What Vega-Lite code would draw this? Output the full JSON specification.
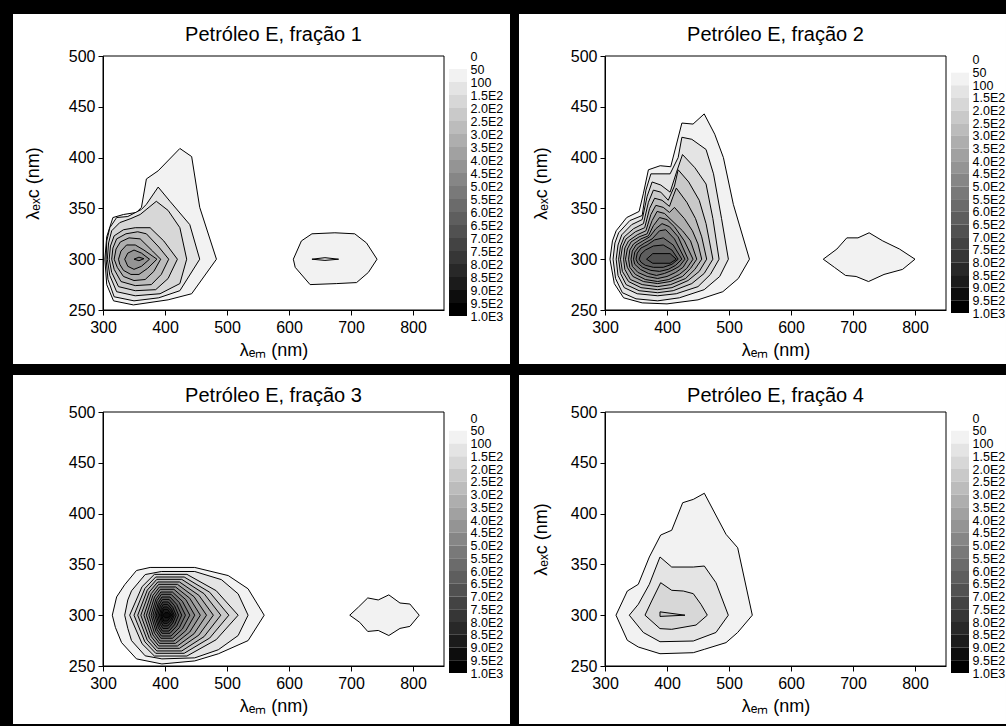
{
"$schema": "https://vega.github.io/schema/vega-lite/v6.json",
"background": "black",
"padding": {"left": 13, "top": 13, "right": 0, "bottom": 3},
"bounds": "flush",
"columns": 5,
"spacing": {"row": 96, "column": 5},
"datasets": {
"leg": [{"lo":0,"hi":50},{"lo":50,"hi":100},{"lo":100,"hi":150},{"lo":150,"hi":200},{"lo":200,"hi":250},{"lo":250,"hi":300},{"lo":300,"hi":350},{"lo":350,"hi":400},{"lo":400,"hi":450},{"lo":450,"hi":500},{"lo":500,"hi":550},{"lo":550,"hi":600},{"lo":600,"hi":650},{"lo":650,"hi":700},{"lo":700,"hi":750},{"lo":750,"hi":800},{"lo":800,"hi":850},{"lo":850,"hi":900},{"lo":900,"hi":950},{"lo":950,"hi":1000}],
"p1": [
{"g":"a01","v":50,"i":0,"x":303,"y":300},{"g":"a01","v":50,"i":1,"x":306,"y":322},{"g":"a01","v":50,"i":2,"x":316,"y":341},{"g":"a01","v":50,"i":3,"x":333,"y":344},{"g":"a01","v":50,"i":4,"x":354,"y":346},{"g":"a01","v":50,"i":5,"x":362,"y":351},{"g":"a01","v":50,"i":6,"x":370,"y":379},{"g":"a01","v":50,"i":7,"x":389,"y":387},{"g":"a01","v":50,"i":8,"x":424,"y":409},{"g":"a01","v":50,"i":9,"x":443,"y":401},{"g":"a01","v":50,"i":10,"x":456,"y":351},{"g":"a01","v":50,"i":11,"x":483,"y":300},{"g":"a01","v":50,"i":12,"x":443,"y":266},{"g":"a01","v":50,"i":13,"x":405,"y":260},{"g":"a01","v":50,"i":14,"x":349,"y":255},{"g":"a01","v":50,"i":15,"x":317,"y":259},{"g":"a01","v":50,"i":16,"x":306,"y":275},{"g":"a01","v":50,"i":17,"x":303,"y":300},
{"g":"a02","v":50,"i":0,"x":607,"y":300},{"g":"a02","v":50,"i":1,"x":620,"y":318},{"g":"a02","v":50,"i":2,"x":637,"y":325},{"g":"a02","v":50,"i":3,"x":674,"y":326},{"g":"a02","v":50,"i":4,"x":706,"y":325},{"g":"a02","v":50,"i":5,"x":725,"y":316},{"g":"a02","v":50,"i":6,"x":742,"y":300},{"g":"a02","v":50,"i":7,"x":728,"y":287},{"g":"a02","v":50,"i":8,"x":709,"y":277},{"g":"a02","v":50,"i":9,"x":677,"y":276},{"g":"a02","v":50,"i":10,"x":634,"y":275},{"g":"a02","v":50,"i":11,"x":610,"y":292},{"g":"a02","v":50,"i":12,"x":607,"y":300},
{"g":"a03","v":100,"i":0,"x":305,"y":300},{"g":"a03","v":100,"i":1,"x":306,"y":318},{"g":"a03","v":100,"i":2,"x":311,"y":331},{"g":"a03","v":100,"i":3,"x":322,"y":341},{"g":"a03","v":100,"i":4,"x":340,"y":342},{"g":"a03","v":100,"i":5,"x":362,"y":349},{"g":"a03","v":100,"i":6,"x":370,"y":354},{"g":"a03","v":100,"i":7,"x":389,"y":371},{"g":"a03","v":100,"i":8,"x":408,"y":357},{"g":"a03","v":100,"i":9,"x":440,"y":334},{"g":"a03","v":100,"i":10,"x":456,"y":300},{"g":"a03","v":100,"i":11,"x":424,"y":269},{"g":"a03","v":100,"i":12,"x":390,"y":262},{"g":"a03","v":100,"i":13,"x":350,"y":259},{"g":"a03","v":100,"i":14,"x":318,"y":263},{"g":"a03","v":100,"i":15,"x":308,"y":280},{"g":"a03","v":100,"i":16,"x":305,"y":300},
{"g":"a04","v":100,"i":0,"x":637,"y":300},{"g":"a04","v":100,"i":1,"x":658,"y":301.5},{"g":"a04","v":100,"i":2,"x":680,"y":300},{"g":"a04","v":100,"i":3,"x":658,"y":298.8},{"g":"a04","v":100,"i":4,"x":637,"y":300},
{"g":"a05","v":150,"i":0,"x":307,"y":300},{"g":"a05","v":150,"i":1,"x":309,"y":316},{"g":"a05","v":150,"i":2,"x":314,"y":328},{"g":"a05","v":150,"i":3,"x":327,"y":336},{"g":"a05","v":150,"i":4,"x":345,"y":340},{"g":"a05","v":150,"i":5,"x":360,"y":344},{"g":"a05","v":150,"i":6,"x":386,"y":357},{"g":"a05","v":150,"i":7,"x":405,"y":348},{"g":"a05","v":150,"i":8,"x":424,"y":331},{"g":"a05","v":150,"i":9,"x":435,"y":300},{"g":"a05","v":150,"i":10,"x":424,"y":276},{"g":"a05","v":150,"i":11,"x":392,"y":266},{"g":"a05","v":150,"i":12,"x":352,"y":264},{"g":"a05","v":150,"i":13,"x":322,"y":268},{"g":"a05","v":150,"i":14,"x":311,"y":284},{"g":"a05","v":150,"i":15,"x":307,"y":300},
{"g":"a06","v":200,"i":0,"x":310,"y":300},{"g":"a06","v":200,"i":1,"x":312,"y":313},{"g":"a06","v":200,"i":2,"x":318,"y":323},{"g":"a06","v":200,"i":3,"x":333,"y":329},{"g":"a06","v":200,"i":4,"x":352,"y":331},{"g":"a06","v":200,"i":5,"x":376,"y":331},{"g":"a06","v":200,"i":6,"x":398,"y":318},{"g":"a06","v":200,"i":7,"x":420,"y":300},{"g":"a06","v":200,"i":8,"x":405,"y":281},{"g":"a06","v":200,"i":9,"x":385,"y":270},{"g":"a06","v":200,"i":10,"x":352,"y":269},{"g":"a06","v":200,"i":11,"x":325,"y":273},{"g":"a06","v":200,"i":12,"x":314,"y":287},{"g":"a06","v":200,"i":13,"x":310,"y":300},
{"g":"a07","v":250,"i":0,"x":314,"y":300},{"g":"a07","v":250,"i":1,"x":316,"y":311},{"g":"a07","v":250,"i":2,"x":322,"y":320},{"g":"a07","v":250,"i":3,"x":337,"y":325},{"g":"a07","v":250,"i":4,"x":356,"y":327},{"g":"a07","v":250,"i":5,"x":370,"y":325},{"g":"a07","v":250,"i":6,"x":390,"y":312},{"g":"a07","v":250,"i":7,"x":406,"y":300},{"g":"a07","v":250,"i":8,"x":394,"y":285},{"g":"a07","v":250,"i":9,"x":378,"y":275},{"g":"a07","v":250,"i":10,"x":352,"y":274},{"g":"a07","v":250,"i":11,"x":329,"y":278},{"g":"a07","v":250,"i":12,"x":318,"y":290},{"g":"a07","v":250,"i":13,"x":314,"y":300},
{"g":"a08","v":300,"i":0,"x":318,"y":300},{"g":"a08","v":300,"i":1,"x":321,"y":310},{"g":"a08","v":300,"i":2,"x":328,"y":317},{"g":"a08","v":300,"i":3,"x":342,"y":321},{"g":"a08","v":300,"i":4,"x":360,"y":320},{"g":"a08","v":300,"i":5,"x":380,"y":308},{"g":"a08","v":300,"i":6,"x":393,"y":300},{"g":"a08","v":300,"i":7,"x":382,"y":288},{"g":"a08","v":300,"i":8,"x":368,"y":280},{"g":"a08","v":300,"i":9,"x":350,"y":279},{"g":"a08","v":300,"i":10,"x":333,"y":283},{"g":"a08","v":300,"i":11,"x":323,"y":292},{"g":"a08","v":300,"i":12,"x":318,"y":300},
{"g":"a09","v":350,"i":0,"x":325,"y":300},{"g":"a09","v":350,"i":1,"x":329,"y":308},{"g":"a09","v":350,"i":2,"x":338,"y":314},{"g":"a09","v":350,"i":3,"x":352,"y":314},{"g":"a09","v":350,"i":4,"x":366,"y":309},{"g":"a09","v":350,"i":5,"x":387,"y":300},{"g":"a09","v":350,"i":6,"x":372,"y":291},{"g":"a09","v":350,"i":7,"x":358,"y":285},{"g":"a09","v":350,"i":8,"x":345,"y":285},{"g":"a09","v":350,"i":9,"x":333,"y":289},{"g":"a09","v":350,"i":10,"x":327,"y":295},{"g":"a09","v":350,"i":11,"x":325,"y":300},
{"g":"a10","v":400,"i":0,"x":335,"y":300},{"g":"a10","v":400,"i":1,"x":340,"y":306},{"g":"a10","v":400,"i":2,"x":350,"y":309},{"g":"a10","v":400,"i":3,"x":362,"y":306},{"g":"a10","v":400,"i":4,"x":375,"y":300},{"g":"a10","v":400,"i":5,"x":362,"y":293},{"g":"a10","v":400,"i":6,"x":350,"y":290},{"g":"a10","v":400,"i":7,"x":340,"y":293},{"g":"a10","v":400,"i":8,"x":335,"y":300},
{"g":"a11","v":450,"i":0,"x":350,"y":300},{"g":"a11","v":450,"i":1,"x":358,"y":302},{"g":"a11","v":450,"i":2,"x":366,"y":300.5},{"g":"a11","v":450,"i":3,"x":358,"y":298.5},{"g":"a11","v":450,"i":4,"x":350,"y":300}
],
"p2": [
{"g":"b01","v":50,"i":0,"x":308,"y":300},{"g":"b01","v":50,"i":1,"x":312,"y":318},{"g":"b01","v":50,"i":2,"x":318,"y":328},{"g":"b01","v":50,"i":3,"x":335,"y":341},{"g":"b01","v":50,"i":4,"x":355,"y":347},{"g":"b01","v":50,"i":5,"x":362,"y":365},{"g":"b01","v":50,"i":6,"x":370,"y":388},{"g":"b01","v":50,"i":7,"x":389,"y":392},{"g":"b01","v":50,"i":8,"x":406,"y":391},{"g":"b01","v":50,"i":9,"x":424,"y":434},{"g":"b01","v":50,"i":10,"x":442,"y":433},{"g":"b01","v":50,"i":11,"x":460,"y":443},{"g":"b01","v":50,"i":12,"x":477,"y":423},{"g":"b01","v":50,"i":13,"x":491,"y":400},{"g":"b01","v":50,"i":14,"x":507,"y":354},{"g":"b01","v":50,"i":15,"x":533,"y":300},{"g":"b01","v":50,"i":16,"x":515,"y":281},{"g":"b01","v":50,"i":17,"x":490,"y":268},{"g":"b01","v":50,"i":18,"x":450,"y":260},{"g":"b01","v":50,"i":19,"x":400,"y":256},{"g":"b01","v":50,"i":20,"x":360,"y":257},{"g":"b01","v":50,"i":21,"x":330,"y":262},{"g":"b01","v":50,"i":22,"x":315,"y":276},{"g":"b01","v":50,"i":23,"x":308,"y":300},
{"g":"b02","v":50,"i":0,"x":652,"y":300},{"g":"b02","v":50,"i":1,"x":674,"y":310},{"g":"b02","v":50,"i":2,"x":690,"y":321},{"g":"b02","v":50,"i":3,"x":708,"y":321},{"g":"b02","v":50,"i":4,"x":726,"y":326},{"g":"b02","v":50,"i":5,"x":748,"y":318},{"g":"b02","v":50,"i":6,"x":775,"y":310},{"g":"b02","v":50,"i":7,"x":800,"y":300},{"g":"b02","v":50,"i":8,"x":780,"y":290},{"g":"b02","v":50,"i":9,"x":750,"y":285},{"g":"b02","v":50,"i":10,"x":725,"y":278},{"g":"b02","v":50,"i":11,"x":705,"y":283},{"g":"b02","v":50,"i":12,"x":688,"y":284},{"g":"b02","v":50,"i":13,"x":670,"y":292},{"g":"b02","v":50,"i":14,"x":652,"y":300},
{"g":"b03","v":100,"i":0,"x":313,"y":300},{"g":"b03","v":100,"i":1,"x":316,"y":316},{"g":"b03","v":100,"i":2,"x":322,"y":326},{"g":"b03","v":100,"i":3,"x":340,"y":338},{"g":"b03","v":100,"i":4,"x":360,"y":343},{"g":"b03","v":100,"i":5,"x":366,"y":368},{"g":"b03","v":100,"i":6,"x":374,"y":384},{"g":"b03","v":100,"i":7,"x":405,"y":384},{"g":"b03","v":100,"i":8,"x":418,"y":400},{"g":"b03","v":100,"i":9,"x":424,"y":420},{"g":"b03","v":100,"i":10,"x":440,"y":418},{"g":"b03","v":100,"i":11,"x":463,"y":408},{"g":"b03","v":100,"i":12,"x":475,"y":384},{"g":"b03","v":100,"i":13,"x":488,"y":340},{"g":"b03","v":100,"i":14,"x":499,"y":300},{"g":"b03","v":100,"i":15,"x":485,"y":283},{"g":"b03","v":100,"i":16,"x":460,"y":270},{"g":"b03","v":100,"i":17,"x":420,"y":262},{"g":"b03","v":100,"i":18,"x":385,"y":259},{"g":"b03","v":100,"i":19,"x":350,"y":261},{"g":"b03","v":100,"i":20,"x":328,"y":267},{"g":"b03","v":100,"i":21,"x":317,"y":281},{"g":"b03","v":100,"i":22,"x":313,"y":300},
{"g":"b04","v":150,"i":0,"x":318,"y":300},{"g":"b04","v":150,"i":1,"x":321,"y":314},{"g":"b04","v":150,"i":2,"x":327,"y":324},{"g":"b04","v":150,"i":3,"x":343,"y":334},{"g":"b04","v":150,"i":4,"x":360,"y":339},{"g":"b04","v":150,"i":5,"x":368,"y":362},{"g":"b04","v":150,"i":6,"x":376,"y":376},{"g":"b04","v":150,"i":7,"x":390,"y":373},{"g":"b04","v":150,"i":8,"x":405,"y":366},{"g":"b04","v":150,"i":9,"x":415,"y":385},{"g":"b04","v":150,"i":10,"x":425,"y":403},{"g":"b04","v":150,"i":11,"x":445,"y":390},{"g":"b04","v":150,"i":12,"x":463,"y":374},{"g":"b04","v":150,"i":13,"x":474,"y":340},{"g":"b04","v":150,"i":14,"x":484,"y":300},{"g":"b04","v":150,"i":15,"x":470,"y":285},{"g":"b04","v":150,"i":16,"x":450,"y":273},{"g":"b04","v":150,"i":17,"x":415,"y":266},{"g":"b04","v":150,"i":18,"x":385,"y":264},{"g":"b04","v":150,"i":19,"x":352,"y":266},{"g":"b04","v":150,"i":20,"x":331,"y":272},{"g":"b04","v":150,"i":21,"x":321,"y":284},{"g":"b04","v":150,"i":22,"x":318,"y":300},
{"g":"b05","v":200,"i":0,"x":322,"y":300},{"g":"b05","v":200,"i":1,"x":325,"y":313},{"g":"b05","v":200,"i":2,"x":331,"y":322},{"g":"b05","v":200,"i":3,"x":346,"y":330},{"g":"b05","v":200,"i":4,"x":362,"y":335},{"g":"b05","v":200,"i":5,"x":370,"y":356},{"g":"b05","v":200,"i":6,"x":378,"y":368},{"g":"b05","v":200,"i":7,"x":390,"y":366},{"g":"b05","v":200,"i":8,"x":402,"y":358},{"g":"b05","v":200,"i":9,"x":412,"y":372},{"g":"b05","v":200,"i":10,"x":418,"y":388},{"g":"b05","v":200,"i":11,"x":435,"y":376},{"g":"b05","v":200,"i":12,"x":452,"y":358},{"g":"b05","v":200,"i":13,"x":463,"y":335},{"g":"b05","v":200,"i":14,"x":474,"y":300},{"g":"b05","v":200,"i":15,"x":460,"y":286},{"g":"b05","v":200,"i":16,"x":440,"y":276},{"g":"b05","v":200,"i":17,"x":410,"y":269},{"g":"b05","v":200,"i":18,"x":385,"y":267},{"g":"b05","v":200,"i":19,"x":355,"y":269},{"g":"b05","v":200,"i":20,"x":334,"y":275},{"g":"b05","v":200,"i":21,"x":325,"y":286},{"g":"b05","v":200,"i":22,"x":322,"y":300},
{"g":"b06","v":250,"i":0,"x":325,"y":300},{"g":"b06","v":250,"i":1,"x":328,"y":312},{"g":"b06","v":250,"i":2,"x":334,"y":320},{"g":"b06","v":250,"i":3,"x":349,"y":327},{"g":"b06","v":250,"i":4,"x":364,"y":331},{"g":"b06","v":250,"i":5,"x":372,"y":350},{"g":"b06","v":250,"i":6,"x":380,"y":360},{"g":"b06","v":250,"i":7,"x":392,"y":358},{"g":"b06","v":250,"i":8,"x":404,"y":352},{"g":"b06","v":250,"i":9,"x":410,"y":362},{"g":"b06","v":250,"i":10,"x":415,"y":370},{"g":"b06","v":250,"i":11,"x":432,"y":356},{"g":"b06","v":250,"i":12,"x":446,"y":340},{"g":"b06","v":250,"i":13,"x":456,"y":322},{"g":"b06","v":250,"i":14,"x":464,"y":300},{"g":"b06","v":250,"i":15,"x":452,"y":288},{"g":"b06","v":250,"i":16,"x":434,"y":279},{"g":"b06","v":250,"i":17,"x":408,"y":272},{"g":"b06","v":250,"i":18,"x":385,"y":270},{"g":"b06","v":250,"i":19,"x":358,"y":272},{"g":"b06","v":250,"i":20,"x":338,"y":278},{"g":"b06","v":250,"i":21,"x":328,"y":288},{"g":"b06","v":250,"i":22,"x":325,"y":300},
{"g":"b07","v":300,"i":0,"x":330,"y":300},{"g":"b07","v":300,"i":1,"x":332,"y":311},{"g":"b07","v":300,"i":2,"x":338,"y":318},{"g":"b07","v":300,"i":3,"x":352,"y":324},{"g":"b07","v":300,"i":4,"x":366,"y":328},{"g":"b07","v":300,"i":5,"x":374,"y":344},{"g":"b07","v":300,"i":6,"x":382,"y":353},{"g":"b07","v":300,"i":7,"x":394,"y":351},{"g":"b07","v":300,"i":8,"x":404,"y":346},{"g":"b07","v":300,"i":9,"x":412,"y":351},{"g":"b07","v":300,"i":10,"x":428,"y":340},{"g":"b07","v":300,"i":11,"x":441,"y":328},{"g":"b07","v":300,"i":12,"x":450,"y":315},{"g":"b07","v":300,"i":13,"x":456,"y":300},{"g":"b07","v":300,"i":14,"x":445,"y":290},{"g":"b07","v":300,"i":15,"x":430,"y":281},{"g":"b07","v":300,"i":16,"x":406,"y":275},{"g":"b07","v":300,"i":17,"x":385,"y":273},{"g":"b07","v":300,"i":18,"x":360,"y":275},{"g":"b07","v":300,"i":19,"x":341,"y":280},{"g":"b07","v":300,"i":20,"x":332,"y":290},{"g":"b07","v":300,"i":21,"x":330,"y":300},
{"g":"b08","v":350,"i":0,"x":333,"y":300},{"g":"b08","v":350,"i":1,"x":336,"y":310},{"g":"b08","v":350,"i":2,"x":342,"y":317},{"g":"b08","v":350,"i":3,"x":355,"y":322},{"g":"b08","v":350,"i":4,"x":368,"y":325},{"g":"b08","v":350,"i":5,"x":376,"y":338},{"g":"b08","v":350,"i":6,"x":384,"y":347},{"g":"b08","v":350,"i":7,"x":396,"y":345},{"g":"b08","v":350,"i":8,"x":408,"y":338},{"g":"b08","v":350,"i":9,"x":425,"y":328},{"g":"b08","v":350,"i":10,"x":438,"y":318},{"g":"b08","v":350,"i":11,"x":448,"y":300},{"g":"b08","v":350,"i":12,"x":438,"y":291},{"g":"b08","v":350,"i":13,"x":425,"y":283},{"g":"b08","v":350,"i":14,"x":405,"y":278},{"g":"b08","v":350,"i":15,"x":385,"y":276},{"g":"b08","v":350,"i":16,"x":362,"y":278},{"g":"b08","v":350,"i":17,"x":345,"y":283},{"g":"b08","v":350,"i":18,"x":336,"y":292},{"g":"b08","v":350,"i":19,"x":333,"y":300},
{"g":"b09","v":400,"i":0,"x":338,"y":300},{"g":"b09","v":400,"i":1,"x":340,"y":309},{"g":"b09","v":400,"i":2,"x":346,"y":315},{"g":"b09","v":400,"i":3,"x":358,"y":320},{"g":"b09","v":400,"i":4,"x":370,"y":323},{"g":"b09","v":400,"i":5,"x":378,"y":333},{"g":"b09","v":400,"i":6,"x":388,"y":341},{"g":"b09","v":400,"i":7,"x":400,"y":339},{"g":"b09","v":400,"i":8,"x":412,"y":332},{"g":"b09","v":400,"i":9,"x":428,"y":318},{"g":"b09","v":400,"i":10,"x":442,"y":300},{"g":"b09","v":400,"i":11,"x":432,"y":291},{"g":"b09","v":400,"i":12,"x":420,"y":285},{"g":"b09","v":400,"i":13,"x":403,"y":280},{"g":"b09","v":400,"i":14,"x":385,"y":278},{"g":"b09","v":400,"i":15,"x":365,"y":280},{"g":"b09","v":400,"i":16,"x":349,"y":285},{"g":"b09","v":400,"i":17,"x":340,"y":292},{"g":"b09","v":400,"i":18,"x":338,"y":300},
{"g":"b10","v":450,"i":0,"x":342,"y":300},{"g":"b10","v":450,"i":1,"x":344,"y":308},{"g":"b10","v":450,"i":2,"x":350,"y":314},{"g":"b10","v":450,"i":3,"x":361,"y":318},{"g":"b10","v":450,"i":4,"x":372,"y":322},{"g":"b10","v":450,"i":5,"x":382,"y":330},{"g":"b10","v":450,"i":6,"x":392,"y":335},{"g":"b10","v":450,"i":7,"x":404,"y":332},{"g":"b10","v":450,"i":8,"x":418,"y":322},{"g":"b10","v":450,"i":9,"x":434,"y":300},{"g":"b10","v":450,"i":10,"x":426,"y":292},{"g":"b10","v":450,"i":11,"x":414,"y":287},{"g":"b10","v":450,"i":12,"x":400,"y":283},{"g":"b10","v":450,"i":13,"x":385,"y":281},{"g":"b10","v":450,"i":14,"x":368,"y":283},{"g":"b10","v":450,"i":15,"x":353,"y":287},{"g":"b10","v":450,"i":16,"x":344,"y":293},{"g":"b10","v":450,"i":17,"x":342,"y":300},
{"g":"b11","v":500,"i":0,"x":346,"y":300},{"g":"b11","v":500,"i":1,"x":348,"y":307},{"g":"b11","v":500,"i":2,"x":354,"y":312},{"g":"b11","v":500,"i":3,"x":364,"y":316},{"g":"b11","v":500,"i":4,"x":376,"y":320},{"g":"b11","v":500,"i":5,"x":388,"y":328},{"g":"b11","v":500,"i":6,"x":398,"y":329},{"g":"b11","v":500,"i":7,"x":412,"y":320},{"g":"b11","v":500,"i":8,"x":429,"y":300},{"g":"b11","v":500,"i":9,"x":420,"y":293},{"g":"b11","v":500,"i":10,"x":408,"y":289},{"g":"b11","v":500,"i":11,"x":396,"y":286},{"g":"b11","v":500,"i":12,"x":383,"y":284},{"g":"b11","v":500,"i":13,"x":370,"y":286},{"g":"b11","v":500,"i":14,"x":357,"y":290},{"g":"b11","v":500,"i":15,"x":348,"y":295},{"g":"b11","v":500,"i":16,"x":346,"y":300},
{"g":"b12","v":550,"i":0,"x":350,"y":300},{"g":"b12","v":550,"i":1,"x":352,"y":306},{"g":"b12","v":550,"i":2,"x":358,"y":311},{"g":"b12","v":550,"i":3,"x":368,"y":314},{"g":"b12","v":550,"i":4,"x":380,"y":319},{"g":"b12","v":550,"i":5,"x":394,"y":321},{"g":"b12","v":550,"i":6,"x":410,"y":314},{"g":"b12","v":550,"i":7,"x":424,"y":300},{"g":"b12","v":550,"i":8,"x":414,"y":294},{"g":"b12","v":550,"i":9,"x":402,"y":290},{"g":"b12","v":550,"i":10,"x":388,"y":288},{"g":"b12","v":550,"i":11,"x":374,"y":289},{"g":"b12","v":550,"i":12,"x":361,"y":292},{"g":"b12","v":550,"i":13,"x":353,"y":296},{"g":"b12","v":550,"i":14,"x":350,"y":300},
{"g":"b13","v":600,"i":0,"x":355,"y":300},{"g":"b13","v":600,"i":1,"x":358,"y":305},{"g":"b13","v":600,"i":2,"x":365,"y":309},{"g":"b13","v":600,"i":3,"x":378,"y":313},{"g":"b13","v":600,"i":4,"x":394,"y":314},{"g":"b13","v":600,"i":5,"x":408,"y":309},{"g":"b13","v":600,"i":6,"x":418,"y":300},{"g":"b13","v":600,"i":7,"x":408,"y":295},{"g":"b13","v":600,"i":8,"x":394,"y":292},{"g":"b13","v":600,"i":9,"x":378,"y":292},{"g":"b13","v":600,"i":10,"x":365,"y":294},{"g":"b13","v":600,"i":11,"x":358,"y":297},{"g":"b13","v":600,"i":12,"x":355,"y":300},
{"g":"b14","v":650,"i":0,"x":367,"y":300},{"g":"b14","v":650,"i":1,"x":377,"y":305.5},{"g":"b14","v":650,"i":2,"x":405,"y":305.5},{"g":"b14","v":650,"i":3,"x":415,"y":300},{"g":"b14","v":650,"i":4,"x":405,"y":296},{"g":"b14","v":650,"i":5,"x":377,"y":296},{"g":"b14","v":650,"i":6,"x":367,"y":300}
],
"p3": [
{"g":"c01","v":50,"i":0,"x":315,"y":300},{"g":"c01","v":50,"i":1,"x":322,"y":318},{"g":"c01","v":50,"i":2,"x":335,"y":330},{"g":"c01","v":50,"i":3,"x":354,"y":344},{"g":"c01","v":50,"i":4,"x":376,"y":347},{"g":"c01","v":50,"i":5,"x":448,"y":347},{"g":"c01","v":50,"i":6,"x":502,"y":339},{"g":"c01","v":50,"i":7,"x":534,"y":326},{"g":"c01","v":50,"i":8,"x":560,"y":300},{"g":"c01","v":50,"i":9,"x":534,"y":275},{"g":"c01","v":50,"i":10,"x":486,"y":262},{"g":"c01","v":50,"i":11,"x":448,"y":255},{"g":"c01","v":50,"i":12,"x":395,"y":252},{"g":"c01","v":50,"i":13,"x":354,"y":257},{"g":"c01","v":50,"i":14,"x":330,"y":273},{"g":"c01","v":50,"i":15,"x":320,"y":288},{"g":"c01","v":50,"i":16,"x":315,"y":300},
{"g":"c02","v":50,"i":0,"x":698,"y":300},{"g":"c02","v":50,"i":1,"x":712,"y":308},{"g":"c02","v":50,"i":2,"x":727,"y":317},{"g":"c02","v":50,"i":3,"x":744,"y":315},{"g":"c02","v":50,"i":4,"x":761,"y":320},{"g":"c02","v":50,"i":5,"x":779,"y":312},{"g":"c02","v":50,"i":6,"x":795,"y":311},{"g":"c02","v":50,"i":7,"x":810,"y":300},{"g":"c02","v":50,"i":8,"x":795,"y":289},{"g":"c02","v":50,"i":9,"x":779,"y":287},{"g":"c02","v":50,"i":10,"x":761,"y":280},{"g":"c02","v":50,"i":11,"x":744,"y":285},{"g":"c02","v":50,"i":12,"x":727,"y":284},{"g":"c02","v":50,"i":13,"x":714,"y":293},{"g":"c02","v":50,"i":14,"x":698,"y":300},
{"g":"c03","v":100,"i":0,"x":335,"y":300},{"g":"c03","v":100,"i":1,"x":340,"y":315},{"g":"c03","v":100,"i":2,"x":346,"y":324},{"g":"c03","v":100,"i":3,"x":368,"y":340},{"g":"c03","v":100,"i":4,"x":394,"y":343},{"g":"c03","v":100,"i":5,"x":448,"y":343},{"g":"c03","v":100,"i":6,"x":491,"y":335},{"g":"c03","v":100,"i":7,"x":518,"y":321},{"g":"c03","v":100,"i":8,"x":534,"y":300},{"g":"c03","v":100,"i":9,"x":518,"y":280},{"g":"c03","v":100,"i":10,"x":486,"y":266},{"g":"c03","v":100,"i":11,"x":448,"y":258},{"g":"c03","v":100,"i":12,"x":395,"y":257},{"g":"c03","v":100,"i":13,"x":368,"y":260},{"g":"c03","v":100,"i":14,"x":346,"y":275},{"g":"c03","v":100,"i":15,"x":340,"y":287},{"g":"c03","v":100,"i":16,"x":335,"y":300},
{"g":"c04","v":150,"i":0,"x":343,"y":300},{"g":"c04","v":150,"i":1,"x":363,"y":328.1},{"g":"c04","v":150,"i":2,"x":382.9,"y":340.2},{"g":"c04","v":150,"i":3,"x":435.4,"y":340.2},{"g":"c04","v":150,"i":4,"x":482.6,"y":324.1},{"g":"c04","v":150,"i":5,"x":518,"y":300},{"g":"c04","v":150,"i":6,"x":482.6,"y":275.9},{"g":"c04","v":150,"i":7,"x":435.4,"y":259.8},{"g":"c04","v":150,"i":8,"x":382.9,"y":259.8},{"g":"c04","v":150,"i":9,"x":363,"y":271.9},{"g":"c04","v":150,"i":10,"x":343,"y":300},
{"g":"c05","v":200,"i":0,"x":350,"y":300},{"g":"c05","v":200,"i":1,"x":367.5,"y":326.3},{"g":"c05","v":200,"i":2,"x":385,"y":337.6},{"g":"c05","v":200,"i":3,"x":430.9,"y":337.6},{"g":"c05","v":200,"i":4,"x":472.1,"y":322.6},{"g":"c05","v":200,"i":5,"x":503,"y":300},{"g":"c05","v":200,"i":6,"x":472.1,"y":277.5},{"g":"c05","v":200,"i":7,"x":430.9,"y":262.5},{"g":"c05","v":200,"i":8,"x":385,"y":262.5},{"g":"c05","v":200,"i":9,"x":367.5,"y":273.8},{"g":"c05","v":200,"i":10,"x":350,"y":300},
{"g":"c06","v":250,"i":0,"x":356,"y":300},{"g":"c06","v":250,"i":1,"x":371.4,"y":324.7},{"g":"c06","v":250,"i":2,"x":386.8,"y":335.3},{"g":"c06","v":250,"i":3,"x":427,"y":335.3},{"g":"c06","v":250,"i":4,"x":463,"y":321.2},{"g":"c06","v":250,"i":5,"x":490,"y":300},{"g":"c06","v":250,"i":6,"x":463,"y":278.9},{"g":"c06","v":250,"i":7,"x":427,"y":264.8},{"g":"c06","v":250,"i":8,"x":386.8,"y":264.8},{"g":"c06","v":250,"i":9,"x":371.4,"y":275.4},{"g":"c06","v":250,"i":10,"x":356,"y":300},
{"g":"c07","v":300,"i":0,"x":361,"y":300},{"g":"c07","v":300,"i":1,"x":374.7,"y":322.9},{"g":"c07","v":300,"i":2,"x":388.3,"y":332.7},{"g":"c07","v":300,"i":3,"x":423.4,"y":332.7},{"g":"c07","v":300,"i":4,"x":454.6,"y":319.6},{"g":"c07","v":300,"i":5,"x":478,"y":300},{"g":"c07","v":300,"i":6,"x":454.6,"y":280.4},{"g":"c07","v":300,"i":7,"x":423.4,"y":267.4},{"g":"c07","v":300,"i":8,"x":388.3,"y":267.4},{"g":"c07","v":300,"i":9,"x":374.7,"y":277.2},{"g":"c07","v":300,"i":10,"x":361,"y":300},
{"g":"c08","v":350,"i":0,"x":366,"y":300},{"g":"c08","v":350,"i":1,"x":377.9,"y":321.3},{"g":"c08","v":350,"i":2,"x":389.8,"y":330.4},{"g":"c08","v":350,"i":3,"x":420.1,"y":330.4},{"g":"c08","v":350,"i":4,"x":446.9,"y":318.2},{"g":"c08","v":350,"i":5,"x":467,"y":300},{"g":"c08","v":350,"i":6,"x":446.9,"y":281.8},{"g":"c08","v":350,"i":7,"x":420.1,"y":269.7},{"g":"c08","v":350,"i":8,"x":389.8,"y":269.7},{"g":"c08","v":350,"i":9,"x":377.9,"y":278.8},{"g":"c08","v":350,"i":10,"x":366,"y":300},
{"g":"c09","v":400,"i":0,"x":370,"y":300},{"g":"c09","v":400,"i":1,"x":380.5,"y":319.5},{"g":"c09","v":400,"i":2,"x":391,"y":327.8},{"g":"c09","v":400,"i":3,"x":417.1,"y":327.8},{"g":"c09","v":400,"i":4,"x":439.9,"y":316.7},{"g":"c09","v":400,"i":5,"x":457,"y":300},{"g":"c09","v":400,"i":6,"x":439.9,"y":283.4},{"g":"c09","v":400,"i":7,"x":417.1,"y":272.3},{"g":"c09","v":400,"i":8,"x":391,"y":272.3},{"g":"c09","v":400,"i":9,"x":380.5,"y":280.6},{"g":"c09","v":400,"i":10,"x":370,"y":300},
{"g":"c10","v":450,"i":0,"x":374,"y":300},{"g":"c10","v":450,"i":1,"x":383.1,"y":317.9},{"g":"c10","v":450,"i":2,"x":392.2,"y":325.5},{"g":"c10","v":450,"i":3,"x":414.4,"y":325.5},{"g":"c10","v":450,"i":4,"x":433.6,"y":315.3},{"g":"c10","v":450,"i":5,"x":448,"y":300},{"g":"c10","v":450,"i":6,"x":433.6,"y":284.8},{"g":"c10","v":450,"i":7,"x":414.4,"y":274.6},{"g":"c10","v":450,"i":8,"x":392.2,"y":274.6},{"g":"c10","v":450,"i":9,"x":383.1,"y":282.2},{"g":"c10","v":450,"i":10,"x":374,"y":300},
{"g":"c11","v":500,"i":0,"x":377.5,"y":300},{"g":"c11","v":500,"i":1,"x":385.4,"y":316},{"g":"c11","v":500,"i":2,"x":393.3,"y":322.8},{"g":"c11","v":500,"i":3,"x":412,"y":322.8},{"g":"c11","v":500,"i":4,"x":428,"y":313.7},{"g":"c11","v":500,"i":5,"x":440,"y":300},{"g":"c11","v":500,"i":6,"x":428,"y":286.4},{"g":"c11","v":500,"i":7,"x":412,"y":277.3},{"g":"c11","v":500,"i":8,"x":393.3,"y":277.3},{"g":"c11","v":500,"i":9,"x":385.4,"y":284.1},{"g":"c11","v":500,"i":10,"x":377.5,"y":300},
{"g":"c12","v":550,"i":0,"x":380.5,"y":300},{"g":"c12","v":550,"i":1,"x":387.3,"y":314.4},{"g":"c12","v":550,"i":2,"x":394.2,"y":320.6},{"g":"c12","v":550,"i":3,"x":409.9,"y":320.6},{"g":"c12","v":550,"i":4,"x":423.1,"y":312.4},{"g":"c12","v":550,"i":5,"x":433,"y":300},{"g":"c12","v":550,"i":6,"x":423.1,"y":287.7},{"g":"c12","v":550,"i":7,"x":409.9,"y":279.5},{"g":"c12","v":550,"i":8,"x":394.2,"y":279.5},{"g":"c12","v":550,"i":9,"x":387.3,"y":285.7},{"g":"c12","v":550,"i":10,"x":380.5,"y":300},
{"g":"c13","v":600,"i":0,"x":383.5,"y":300},{"g":"c13","v":600,"i":1,"x":389.3,"y":312.5},{"g":"c13","v":600,"i":2,"x":395.1,"y":317.9},{"g":"c13","v":600,"i":3,"x":408.1,"y":317.9},{"g":"c13","v":600,"i":4,"x":418.9,"y":310.7},{"g":"c13","v":600,"i":5,"x":427,"y":300},{"g":"c13","v":600,"i":6,"x":418.9,"y":289.3},{"g":"c13","v":600,"i":7,"x":408.1,"y":282.2},{"g":"c13","v":600,"i":8,"x":395.1,"y":282.2},{"g":"c13","v":600,"i":9,"x":389.3,"y":287.5},{"g":"c13","v":600,"i":10,"x":383.5,"y":300},
{"g":"c14","v":650,"i":0,"x":386,"y":300},{"g":"c14","v":650,"i":1,"x":390.9,"y":310.9},{"g":"c14","v":650,"i":2,"x":395.8,"y":315.6},{"g":"c14","v":650,"i":3,"x":406.6,"y":315.6},{"g":"c14","v":650,"i":4,"x":415.4,"y":309.4},{"g":"c14","v":650,"i":5,"x":422,"y":300},{"g":"c14","v":650,"i":6,"x":415.4,"y":290.6},{"g":"c14","v":650,"i":7,"x":406.6,"y":284.4},{"g":"c14","v":650,"i":8,"x":395.8,"y":284.4},{"g":"c14","v":650,"i":9,"x":390.9,"y":289.1},{"g":"c14","v":650,"i":10,"x":386,"y":300},
{"g":"c15","v":700,"i":0,"x":388.5,"y":300},{"g":"c15","v":700,"i":1,"x":392.5,"y":309.1},{"g":"c15","v":700,"i":2,"x":396.6,"y":313},{"g":"c15","v":700,"i":3,"x":405.4,"y":313},{"g":"c15","v":700,"i":4,"x":412.6,"y":307.8},{"g":"c15","v":700,"i":5,"x":418,"y":300},{"g":"c15","v":700,"i":6,"x":412.6,"y":292.2},{"g":"c15","v":700,"i":7,"x":405.4,"y":287},{"g":"c15","v":700,"i":8,"x":396.6,"y":287},{"g":"c15","v":700,"i":9,"x":392.5,"y":290.9},{"g":"c15","v":700,"i":10,"x":388.5,"y":300},
{"g":"c16","v":750,"i":0,"x":391,"y":300},{"g":"c16","v":750,"i":1,"x":394.2,"y":307.5},{"g":"c16","v":750,"i":2,"x":397.3,"y":310.7},{"g":"c16","v":750,"i":3,"x":404.5,"y":310.7},{"g":"c16","v":750,"i":4,"x":410.5,"y":306.4},{"g":"c16","v":750,"i":5,"x":415,"y":300},{"g":"c16","v":750,"i":6,"x":410.5,"y":293.6},{"g":"c16","v":750,"i":7,"x":404.5,"y":289.4},{"g":"c16","v":750,"i":8,"x":397.3,"y":289.4},{"g":"c16","v":750,"i":9,"x":394.2,"y":292.6},{"g":"c16","v":750,"i":10,"x":391,"y":300},
{"g":"c17","v":800,"i":0,"x":393,"y":300},{"g":"c17","v":800,"i":1,"x":395.5,"y":305.7},{"g":"c17","v":800,"i":2,"x":397.9,"y":308.1},{"g":"c17","v":800,"i":3,"x":403.9,"y":308.1},{"g":"c17","v":800,"i":4,"x":409.1,"y":304.9},{"g":"c17","v":800,"i":5,"x":413,"y":300},{"g":"c17","v":800,"i":6,"x":409.1,"y":295.2},{"g":"c17","v":800,"i":7,"x":403.9,"y":292},{"g":"c17","v":800,"i":8,"x":397.9,"y":292},{"g":"c17","v":800,"i":9,"x":395.5,"y":294.4},{"g":"c17","v":800,"i":10,"x":393,"y":300},
{"g":"c18","v":850,"i":0,"x":394.5,"y":300},{"g":"c18","v":850,"i":1,"x":398,"y":305.8},{"g":"c18","v":850,"i":2,"x":404,"y":305.8},{"g":"c18","v":850,"i":3,"x":411,"y":300},{"g":"c18","v":850,"i":4,"x":404,"y":294.3},{"g":"c18","v":850,"i":5,"x":398,"y":294.3},{"g":"c18","v":850,"i":6,"x":394.5,"y":300},
{"g":"c19","v":900,"i":0,"x":396,"y":300},{"g":"c19","v":900,"i":1,"x":400,"y":302.5},{"g":"c19","v":900,"i":2,"x":405,"y":302.5},{"g":"c19","v":900,"i":3,"x":409,"y":300},{"g":"c19","v":900,"i":4,"x":405,"y":297.5},{"g":"c19","v":900,"i":5,"x":400,"y":297.5},{"g":"c19","v":900,"i":6,"x":396,"y":300}
],
"p4": [
{"g":"d01","v":50,"i":0,"x":317.7,"y":300},{"g":"d01","v":50,"i":1,"x":336,"y":323.8},{"g":"d01","v":50,"i":2,"x":353.7,"y":330.4},{"g":"d01","v":50,"i":3,"x":371.5,"y":357.3},{"g":"d01","v":50,"i":4,"x":389.8,"y":378.9},{"g":"d01","v":50,"i":5,"x":407.6,"y":383.6},{"g":"d01","v":50,"i":6,"x":425.3,"y":410.7},{"g":"d01","v":50,"i":7,"x":442.4,"y":414},{"g":"d01","v":50,"i":8,"x":460.2,"y":420},{"g":"d01","v":50,"i":9,"x":495.2,"y":379.6},{"g":"d01","v":50,"i":10,"x":514,"y":366.4},{"g":"d01","v":50,"i":11,"x":537.6,"y":300},{"g":"d01","v":50,"i":12,"x":514,"y":283},{"g":"d01","v":50,"i":13,"x":495.2,"y":273},{"g":"d01","v":50,"i":14,"x":460.2,"y":266.4},{"g":"d01","v":50,"i":15,"x":442.4,"y":263.1},{"g":"d01","v":50,"i":16,"x":388.7,"y":262.1},{"g":"d01","v":50,"i":17,"x":353.7,"y":268.7},{"g":"d01","v":50,"i":18,"x":336,"y":275.3},{"g":"d01","v":50,"i":19,"x":317.7,"y":300},
{"g":"d02","v":100,"i":0,"x":339.2,"y":300},{"g":"d02","v":100,"i":1,"x":353.7,"y":310.7},{"g":"d02","v":100,"i":2,"x":371.5,"y":330.4},{"g":"d02","v":100,"i":3,"x":388.7,"y":357.3},{"g":"d02","v":100,"i":4,"x":407.6,"y":347.4},{"g":"d02","v":100,"i":5,"x":442.4,"y":347.4},{"g":"d02","v":100,"i":6,"x":460.2,"y":348.4},{"g":"d02","v":100,"i":7,"x":479,"y":332},{"g":"d02","v":100,"i":8,"x":498.9,"y":300},{"g":"d02","v":100,"i":9,"x":479,"y":283},{"g":"d02","v":100,"i":10,"x":442.4,"y":274.6},{"g":"d02","v":100,"i":11,"x":388.7,"y":273.9},{"g":"d02","v":100,"i":12,"x":361.8,"y":283},{"g":"d02","v":100,"i":13,"x":339.2,"y":300},
{"g":"d03","v":150,"i":0,"x":364.5,"y":300},{"g":"d03","v":150,"i":1,"x":375.3,"y":314},{"g":"d03","v":150,"i":2,"x":389.8,"y":332},{"g":"d03","v":150,"i":3,"x":407.6,"y":324.5},{"g":"d03","v":150,"i":4,"x":426.3,"y":323.8},{"g":"d03","v":150,"i":5,"x":442.4,"y":321.2},{"g":"d03","v":150,"i":6,"x":454.8,"y":310.7},{"g":"d03","v":150,"i":7,"x":465,"y":300},{"g":"d03","v":150,"i":8,"x":446.8,"y":290.3},{"g":"d03","v":150,"i":9,"x":407.6,"y":286.1},{"g":"d03","v":150,"i":10,"x":388.7,"y":286.8},{"g":"d03","v":150,"i":11,"x":364.5,"y":300},
{"g":"d04","v":200,"i":0,"x":388.7,"y":303.3},{"g":"d04","v":200,"i":1,"x":429,"y":300},{"g":"d04","v":200,"i":2,"x":388.7,"y":298.8},{"g":"d04","v":200,"i":3,"x":388.7,"y":303.3}
]
},
"concat": [
{
"width": 341, "height": 254,
"title": {"text": "Petróleo E, fração 1", "offset": -31},
"layer": [
{"data": {"values": [{}]}, "mark": {"type": "rect", "fill": "white"},
 "encoding": {
  "x": {"datum": 154.84, "type": "quantitative", "scale": {"domain": [300, 850], "nice": false},
   "axis": {"zindex": 2, "values": [300,350,400,450,500,550,600,650,700,750,800], "labelExpr": "datum.value % 100 === 0 ? datum.label : ''", "tickSize": {"condition": {"test": "datum.value % 100 === 0", "value": 5}, "value": 3}, "title": "λₑₘ (nm)", "labelPadding": 4, "titlePadding": 6}},
  "x2": {"datum": 956.45},
  "y": {"datum": 541.34, "type": "quantitative", "scale": {"domain": [250, 500], "nice": false},
   "axis": {"zindex": 2, "values": [250,275,300,325,350,375,400,425,450,475,500], "labelExpr": "datum.value % 50 === 0 ? datum.label : ''", "tickSize": {"condition": {"test": "datum.value % 50 === 0", "value": 5}, "value": 3}, "title": "λₑₓc (nm)", "labelPadding": 3, "titlePadding": 26}},
  "y2": {"datum": 196.85}}},
{"data": {"name": "p1"}, "mark": {"type": "line", "stroke": "black", "strokeWidth": 1},
 "encoding": {
  "x": {"field": "x", "type": "quantitative", "scale": {"domain": [300, 850], "nice": false}},
  "y": {"field": "y", "type": "quantitative", "scale": {"domain": [250, 500], "nice": false}},
  "detail": {"field": "g", "type": "nominal"},
  "order": {"field": "i", "type": "quantitative"},
  "fill": {"field": "v", "type": "quantitative", "scale": {"domain": [0, 950], "range": ["#ffffff", "#000000"], "interpolate": "rgb"}, "legend": null}}},
{"data": {"values": [{}]}, "mark": {"type": "rect", "filled": false, "stroke": "black", "strokeWidth": 1},
 "encoding": {
  "x": {"datum": 300, "type": "quantitative", "scale": {"domain": [300, 850], "nice": false}},
  "x2": {"datum": 850},
  "y": {"datum": 250, "type": "quantitative", "scale": {"domain": [250, 500], "nice": false}},
  "y2": {"datum": 500}}}
]
},
{"data": {"name": "leg"}, "width": 18, "height": 260, "mark": {"type": "rect"},
 "encoding": {
  "x": {"datum": 0, "type": "quantitative", "scale": {"domain": [0, 1]}, "axis": null},
  "x2": {"datum": 1},
  "y": {"field": "lo", "type": "quantitative", "scale": {"domain": [0, 1000], "reverse": true, "nice": false, "zero": false},
   "axis": {"orient": "right", "zindex": 2, "values": [0,50,100,150,200,250,300,350,400,450,500,550,600,650,700,750,800,850,900,950,1000], "labelExpr": "datum.value < 150 ? datum.value + '' : (datum.value < 1000 ? format(datum.value / 100, '.1f') + 'E2' : '1.0E3')", "ticks": false, "tickSize": 0, "domain": false, "title": null, "labelFontSize": 12.5, "labelPadding": 3}},
  "y2": {"field": "hi"},
  "fill": {"field": "lo", "type": "quantitative", "scale": {"domain": [0, 950], "range": ["#ffffff", "#000000"], "interpolate": "rgb"}, "legend": null}}},
{"width": 128, "height": 254, "data": {"values": [{}]}, "mark": {"type": "point", "opacity": 0}},
{
"width": 341, "height": 254,
"title": {"text": "Petróleo E, fração 2", "offset": -31},
"layer": [
{"data": {"values": [{}]}, "mark": {"type": "rect", "fill": "white"},
 "encoding": {
  "x": {"datum": 161.29, "type": "quantitative", "scale": {"domain": [300, 850], "nice": false},
   "axis": {"zindex": 2, "values": [300,350,400,450,500,550,600,650,700,750,800], "labelExpr": "datum.value % 100 === 0 ? datum.label : ''", "tickSize": {"condition": {"test": "datum.value % 100 === 0", "value": 5}, "value": 3}, "title": "λₑₘ (nm)", "labelPadding": 4, "titlePadding": 6}},
  "x2": {"datum": 946.77},
  "y": {"datum": 541.34, "type": "quantitative", "scale": {"domain": [250, 500], "nice": false},
   "axis": {"zindex": 2, "values": [250,275,300,325,350,375,400,425,450,475,500], "labelExpr": "datum.value % 50 === 0 ? datum.label : ''", "tickSize": {"condition": {"test": "datum.value % 50 === 0", "value": 5}, "value": 3}, "title": "λₑₓc (nm)", "labelPadding": 3, "titlePadding": 20}},
  "y2": {"datum": 196.85}}},
{"data": {"name": "p2"}, "mark": {"type": "line", "stroke": "black", "strokeWidth": 1},
 "encoding": {
  "x": {"field": "x", "type": "quantitative", "scale": {"domain": [300, 850], "nice": false}},
  "y": {"field": "y", "type": "quantitative", "scale": {"domain": [250, 500], "nice": false}},
  "detail": {"field": "g", "type": "nominal"},
  "order": {"field": "i", "type": "quantitative"},
  "fill": {"field": "v", "type": "quantitative", "scale": {"domain": [0, 950], "range": ["#ffffff", "#000000"], "interpolate": "rgb"}, "legend": null}}},
{"data": {"values": [{}]}, "mark": {"type": "rect", "filled": false, "stroke": "black", "strokeWidth": 1},
 "encoding": {
  "x": {"datum": 300, "type": "quantitative", "scale": {"domain": [300, 850], "nice": false}},
  "x2": {"datum": 850},
  "y": {"datum": 250, "type": "quantitative", "scale": {"domain": [250, 500], "nice": false}},
  "y2": {"datum": 500}}}
]
},
{"data": {"name": "leg"}, "width": 18, "height": 257, "mark": {"type": "rect"},
 "encoding": {
  "x": {"datum": 0, "type": "quantitative", "scale": {"domain": [0, 1]}, "axis": null},
  "x2": {"datum": 1},
  "y": {"field": "lo", "type": "quantitative", "scale": {"domain": [-15.81, 1000], "reverse": true, "nice": false, "zero": false},
   "axis": {"orient": "right", "zindex": 2, "values": [0,50,100,150,200,250,300,350,400,450,500,550,600,650,700,750,800,850,900,950,1000], "labelExpr": "datum.value < 150 ? datum.value + '' : (datum.value < 1000 ? format(datum.value / 100, '.1f') + 'E2' : '1.0E3')", "ticks": false, "tickSize": 0, "domain": false, "title": null, "labelFontSize": 12.5, "labelPadding": 3}},
  "y2": {"field": "hi"},
  "fill": {"field": "lo", "type": "quantitative", "scale": {"domain": [0, 950], "range": ["#ffffff", "#000000"], "interpolate": "rgb"}, "legend": null}}},
{
"width": 341, "height": 254,
"title": {"text": "Petróleo E, fração 3", "offset": -31},
"layer": [
{"data": {"values": [{}]}, "mark": {"type": "rect", "fill": "white"},
 "encoding": {
  "x": {"datum": 154.84, "type": "quantitative", "scale": {"domain": [300, 850], "nice": false},
   "axis": {"zindex": 2, "values": [300,350,400,450,500,550,600,650,700,750,800], "labelExpr": "datum.value % 100 === 0 ? datum.label : ''", "tickSize": {"condition": {"test": "datum.value % 100 === 0", "value": 5}, "value": 3}, "title": "λₑₘ (nm)", "labelPadding": 4, "titlePadding": 6}},
  "x2": {"datum": 956.45},
  "y": {"datum": 536.42, "type": "quantitative", "scale": {"domain": [250, 500], "nice": false},
   "axis": {"zindex": 2, "values": [250,275,300,325,350,375,400,425,450,475,500], "labelExpr": "datum.value % 50 === 0 ? datum.label : ''", "tickSize": {"condition": {"test": "datum.value % 50 === 0", "value": 5}, "value": 3}, "title": null, "labelPadding": 3}},
  "y2": {"datum": 192.91}}},
{"data": {"name": "p3"}, "mark": {"type": "line", "stroke": "black", "strokeWidth": 1},
 "encoding": {
  "x": {"field": "x", "type": "quantitative", "scale": {"domain": [300, 850], "nice": false}},
  "y": {"field": "y", "type": "quantitative", "scale": {"domain": [250, 500], "nice": false}},
  "detail": {"field": "g", "type": "nominal"},
  "order": {"field": "i", "type": "quantitative"},
  "fill": {"field": "v", "type": "quantitative", "scale": {"domain": [0, 950], "range": ["#ffffff", "#000000"], "interpolate": "rgb"}, "legend": null}}},
{"data": {"values": [{}]}, "mark": {"type": "rect", "filled": false, "stroke": "black", "strokeWidth": 1},
 "encoding": {
  "x": {"datum": 300, "type": "quantitative", "scale": {"domain": [300, 850], "nice": false}},
  "x2": {"datum": 850},
  "y": {"datum": 250, "type": "quantitative", "scale": {"domain": [250, 500], "nice": false}},
  "y2": {"datum": 500}}}
]
},
{"data": {"name": "leg"}, "width": 18, "height": 261, "mark": {"type": "rect"},
 "encoding": {
  "x": {"datum": 0, "type": "quantitative", "scale": {"domain": [0, 1]}, "axis": null},
  "x2": {"datum": 1},
  "y": {"field": "lo", "type": "quantitative", "scale": {"domain": [-23.53, 1000], "reverse": true, "nice": false, "zero": false},
   "axis": {"orient": "right", "zindex": 2, "values": [0,50,100,150,200,250,300,350,400,450,500,550,600,650,700,750,800,850,900,950,1000], "labelExpr": "datum.value < 150 ? datum.value + '' : (datum.value < 1000 ? format(datum.value / 100, '.1f') + 'E2' : '1.0E3')", "ticks": false, "tickSize": 0, "domain": false, "title": null, "labelFontSize": 12.5, "labelPadding": 3}},
  "y2": {"field": "hi"},
  "fill": {"field": "lo", "type": "quantitative", "scale": {"domain": [0, 950], "range": ["#ffffff", "#000000"], "interpolate": "rgb"}, "legend": null}}},
{"width": 128, "height": 254, "data": {"values": [{}]}, "mark": {"type": "point", "opacity": 0}},
{
"width": 341, "height": 254,
"title": {"text": "Petróleo E, fração 4", "offset": -31},
"layer": [
{"data": {"values": [{}]}, "mark": {"type": "rect", "fill": "white"},
 "encoding": {
  "x": {"datum": 161.29, "type": "quantitative", "scale": {"domain": [300, 850], "nice": false},
   "axis": {"zindex": 2, "values": [300,350,400,450,500,550,600,650,700,750,800], "labelExpr": "datum.value % 100 === 0 ? datum.label : ''", "tickSize": {"condition": {"test": "datum.value % 100 === 0", "value": 5}, "value": 3}, "title": "λₑₘ (nm)", "labelPadding": 4, "titlePadding": 6}},
  "x2": {"datum": 946.77},
  "y": {"datum": 536.42, "type": "quantitative", "scale": {"domain": [250, 500], "nice": false},
   "axis": {"zindex": 2, "values": [250,275,300,325,350,375,400,425,450,475,500], "labelExpr": "datum.value % 50 === 0 ? datum.label : ''", "tickSize": {"condition": {"test": "datum.value % 50 === 0", "value": 5}, "value": 3}, "title": "λₑₓc (nm)", "labelPadding": 3, "titlePadding": 20}},
  "y2": {"datum": 192.91}}},
{"data": {"name": "p4"}, "mark": {"type": "line", "stroke": "black", "strokeWidth": 1},
 "encoding": {
  "x": {"field": "x", "type": "quantitative", "scale": {"domain": [300, 850], "nice": false}},
  "y": {"field": "y", "type": "quantitative", "scale": {"domain": [250, 500], "nice": false}},
  "detail": {"field": "g", "type": "nominal"},
  "order": {"field": "i", "type": "quantitative"},
  "fill": {"field": "v", "type": "quantitative", "scale": {"domain": [0, 950], "range": ["#ffffff", "#000000"], "interpolate": "rgb"}, "legend": null}}},
{"data": {"values": [{}]}, "mark": {"type": "rect", "filled": false, "stroke": "black", "strokeWidth": 1},
 "encoding": {
  "x": {"datum": 300, "type": "quantitative", "scale": {"domain": [300, 850], "nice": false}},
  "x2": {"datum": 850},
  "y": {"datum": 250, "type": "quantitative", "scale": {"domain": [250, 500], "nice": false}},
  "y2": {"datum": 500}}}
]
},
{"data": {"name": "leg"}, "width": 18, "height": 261, "mark": {"type": "rect"},
 "encoding": {
  "x": {"datum": 0, "type": "quantitative", "scale": {"domain": [0, 1]}, "axis": null},
  "x2": {"datum": 1},
  "y": {"field": "lo", "type": "quantitative", "scale": {"domain": [-23.53, 1000], "reverse": true, "nice": false, "zero": false},
   "axis": {"orient": "right", "zindex": 2, "values": [0,50,100,150,200,250,300,350,400,450,500,550,600,650,700,750,800,850,900,950,1000], "labelExpr": "datum.value < 150 ? datum.value + '' : (datum.value < 1000 ? format(datum.value / 100, '.1f') + 'E2' : '1.0E3')", "ticks": false, "tickSize": 0, "domain": false, "title": null, "labelFontSize": 12.5, "labelPadding": 3}},
  "y2": {"field": "hi"},
  "fill": {"field": "lo", "type": "quantitative", "scale": {"domain": [0, 950], "range": ["#ffffff", "#000000"], "interpolate": "rgb"}, "legend": null}}}
],
"config": {
 "view": {"stroke": null},
 "font": "Liberation Sans",
 "title": {"fontSize": 20, "fontWeight": "normal", "color": "black", "anchor": "middle", "font": "Liberation Sans"},
 "axis": {"grid": false, "zindex": 2, "domainColor": "black", "tickColor": "black", "labelColor": "black", "titleColor": "black", "labelFont": "Liberation Sans", "labelFontSize": 16, "titleFont": "Liberation Sans", "titleFontSize": 18, "titleFontWeight": "normal", "labelFlush": false, "labelOverlap": false}
}
}
